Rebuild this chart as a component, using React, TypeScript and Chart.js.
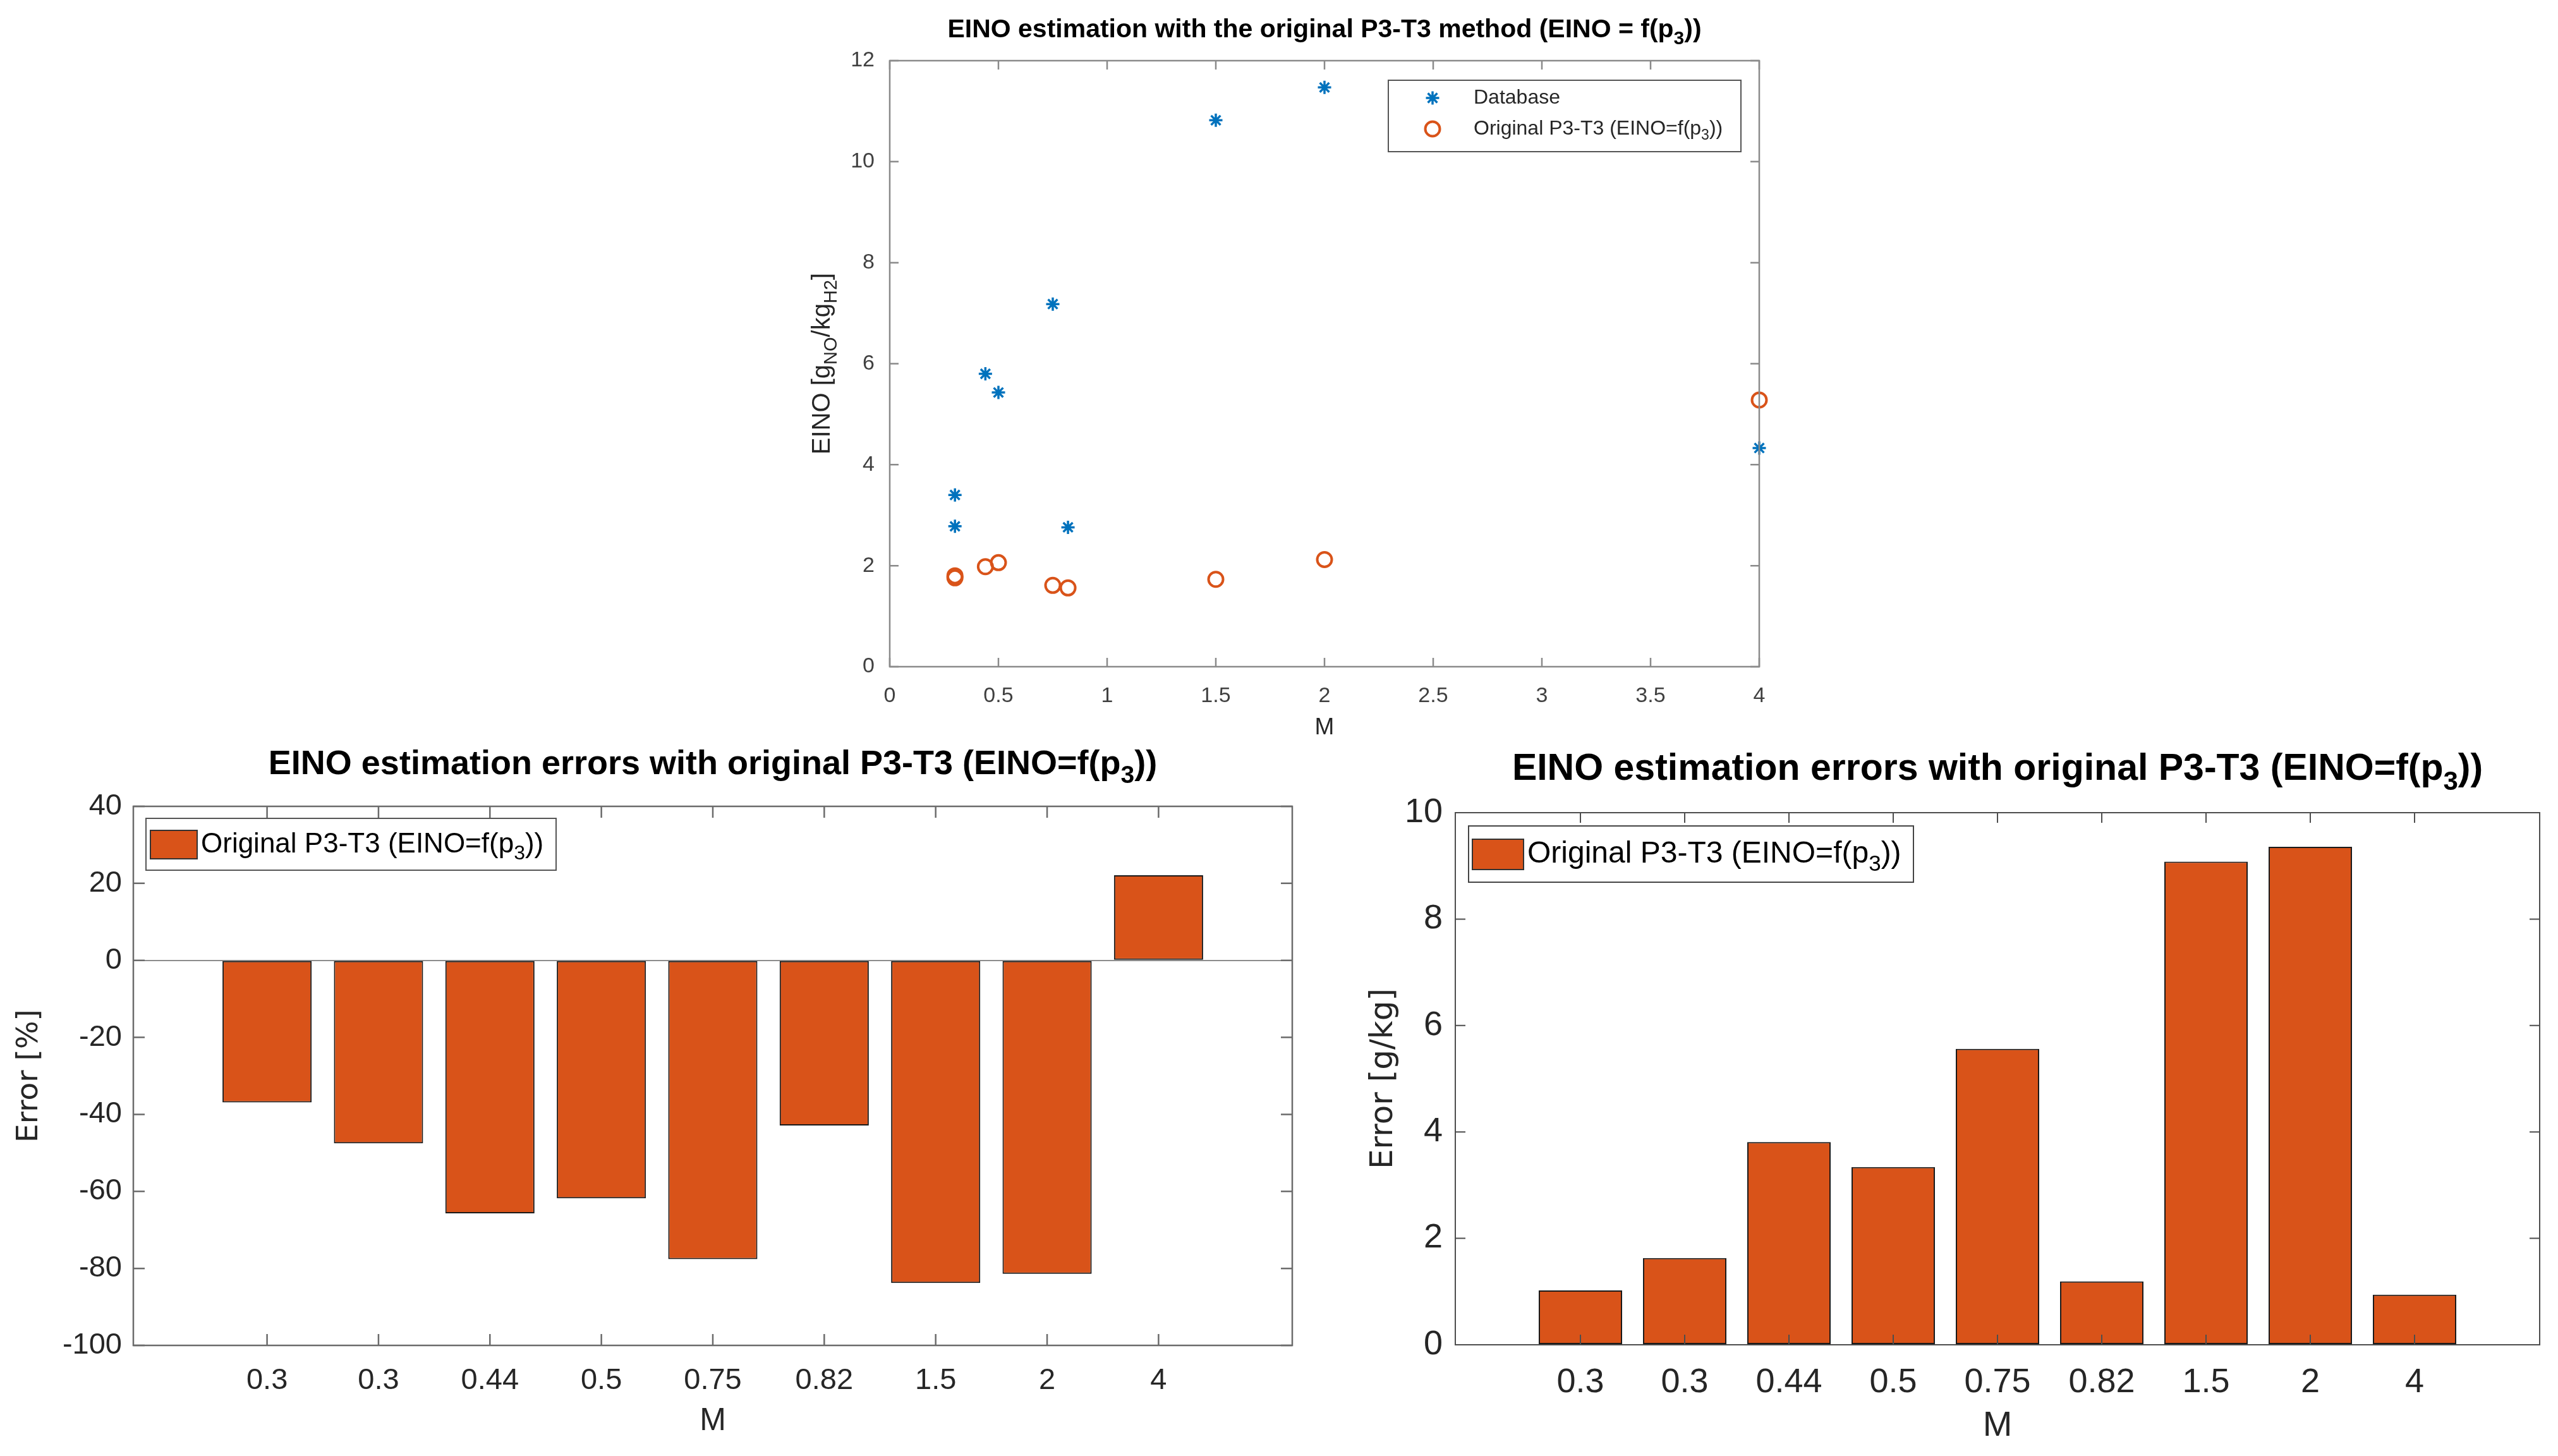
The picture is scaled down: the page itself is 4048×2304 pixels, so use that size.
import { useEffect, useRef } from "react"
import { Chart, registerables } from "chart.js"
import type { ChartArea, ChartConfiguration, Plugin } from "chart.js"

Chart.register(...registerables)

// M values of the test points and their labels on the bar charts
const mValues = [0.3, 0.3, 0.44, 0.5, 0.75, 0.82, 1.5, 2, 4]
const mLabels = ["0.3", "0.3", "0.44", "0.5", "0.75", "0.82", "1.5", "2", "4"]

// EINO [g_NO/kg_H2]
const einoDatabase = [2.78, 3.4, 5.8, 5.43, 7.18, 2.76, 10.82, 11.47, 4.33]
const einoOriginal = [1.76, 1.8, 1.98, 2.06, 1.61, 1.56, 1.73, 2.12, 5.28]

// errors of the original P3-T3 method
const errorPercent = [-36.9, -47.5, -65.7, -61.8, -77.6, -42.9, -83.8, -81.4, 22.1]
const errorGramsPerKg = [1.02, 1.63, 3.81, 3.34, 5.56, 1.19, 9.08, 9.36, 0.94]

type Seg = [string, boolean?]

const labelDatabase: Seg[] = [["Database"]]
const labelOriginal: Seg[] = [["Original P3-T3 (EINO=f(p"], ["3", true], ["))"]]
const titleTop: Seg[] = [["EINO estimation with the original P3-T3 method (EINO = f(p"], ["3", true], ["))"]]
const titleErrors: Seg[] = [["EINO estimation errors with original P3-T3 (EINO=f(p"], ["3", true], ["))"]]
const yTitleTop: Seg[] = [["EINO [g"], ["NO", true], ["/kg"], ["H2", true], ["]"]]

const BLUE = "#0072BD"
const ORANGE = "#D95319"
const SANS = "'Liberation Sans', Arial, Helvetica, sans-serif"
const WIDE = "'DejaVu Sans', Verdana, sans-serif"

const plain = (segs: Seg[]) => segs.map((s) => s[0]).join("")

function drawRich(
  ctx: CanvasRenderingContext2D,
  segs: Seg[],
  x: number,
  y: number,
  size: number,
  family: string,
  color: string,
  weight = "normal",
  align: "center" | "left" = "center",
  rotate = false
) {
  ctx.save()
  ctx.translate(x, y)
  if (rotate) ctx.rotate(-Math.PI / 2)
  ctx.fillStyle = color
  ctx.textBaseline = "middle"
  ctx.textAlign = "left"
  const fontFor = (sub?: boolean) => `${weight} ${sub ? Math.round(size * 0.72) : size}px ${family}`
  let total = 0
  const widths = segs.map(([t, sub]) => {
    ctx.font = fontFor(sub)
    const w = ctx.measureText(t).width
    total += w
    return w
  })
  let cx = align === "center" ? -total / 2 : 0
  segs.forEach(([t, sub], i) => {
    ctx.font = fontFor(sub)
    ctx.fillText(t, cx, sub ? size * 0.34 : 0)
    cx += widths[i]
  })
  ctx.restore()
}

function drawMarker(ctx: CanvasRenderingContext2D, style: string, x: number, y: number, r: number, color: string, lw: number) {
  ctx.save()
  ctx.strokeStyle = color
  ctx.lineWidth = lw
  ctx.beginPath()
  if (style === "star") {
    for (let k = 0; k < 4; k++) {
      const a = (k * Math.PI) / 4
      ctx.moveTo(x - Math.cos(a) * r, y - Math.sin(a) * r)
      ctx.lineTo(x + Math.cos(a) * r, y + Math.sin(a) * r)
    }
  } else {
    ctx.arc(x, y, r, 0, Math.PI * 2)
  }
  ctx.stroke()
  ctx.restore()
}

interface FrameSpec {
  id: string
  axisColor: string
  axisWidth: number
  tickLen: number
  title: { segs: Seg[]; size: number; y: number }
  xTitle: { text: string; size: number; y: number }
  yTitle: { segs: Seg[]; size: number; x: number; family: string }
  legend: (ctx: CanvasRenderingContext2D, a: ChartArea) => void
}

// MATLAB-like box with inward ticks on all four sides, titles and legend
function framePlugin(spec: FrameSpec): Plugin {
  return {
    id: spec.id,
    afterDatasetsDraw(chart) {
      const { ctx, chartArea: a, scales } = chart
      ctx.save()
      ctx.strokeStyle = spec.axisColor
      ctx.lineWidth = spec.axisWidth
      ctx.beginPath()
      for (const t of scales.x.ticks) {
        const px = scales.x.getPixelForValue(t.value)
        ctx.moveTo(px, a.bottom)
        ctx.lineTo(px, a.bottom - spec.tickLen)
        ctx.moveTo(px, a.top)
        ctx.lineTo(px, a.top + spec.tickLen)
      }
      for (const t of scales.y.ticks) {
        const py = scales.y.getPixelForValue(t.value)
        ctx.moveTo(a.left, py)
        ctx.lineTo(a.left + spec.tickLen, py)
        ctx.moveTo(a.right, py)
        ctx.lineTo(a.right - spec.tickLen, py)
      }
      ctx.stroke()
      ctx.strokeRect(a.left, a.top, a.right - a.left, a.bottom - a.top)
      ctx.restore()

      spec.legend(ctx, a)
      const cx = (a.left + a.right) / 2
      const cy = (a.top + a.bottom) / 2
      drawRich(ctx, spec.title.segs, cx, spec.title.y, spec.title.size, SANS, "#000", "bold")
      drawRich(ctx, [[spec.xTitle.text]], cx, spec.xTitle.y, spec.xTitle.size, SANS, "#262626")
      drawRich(ctx, spec.yTitle.segs, spec.yTitle.x, cy, spec.yTitle.size, spec.yTitle.family, "#262626", "normal", "center", true)
    },
  }
}

function barLegend(left: number, top: number, w: number, h: number, sw: number[], fontSize: number, border: string) {
  return (ctx: CanvasRenderingContext2D, a: ChartArea) => {
    const bx = a.left + left
    const by = a.top + top
    ctx.save()
    ctx.fillStyle = "#fff"
    ctx.fillRect(bx, by, w, h)
    ctx.strokeStyle = border
    ctx.lineWidth = 2
    ctx.strokeRect(bx, by, w, h)
    ctx.fillStyle = ORANGE
    ctx.fillRect(bx + sw[0], by + sw[1], sw[2], sw[3])
    ctx.strokeStyle = "#333"
    ctx.strokeRect(bx + sw[0], by + sw[1], sw[2], sw[3])
    ctx.restore()
    drawRich(ctx, labelOriginal, bx + sw[0] + sw[2] + 6, by + sw[1] + sw[3] / 2, fontSize, SANS, "#000", "normal", "left")
  }
}

function makeScatter(): ChartConfiguration {
  const tickColor = "#404040"
  return {
    type: "scatter",
    data: {
      datasets: [
        {
          label: plain(labelDatabase),
          data: mValues.map((m, i) => ({ x: m, y: einoDatabase[i] })),
          pointStyle: "star",
          pointRadius: 10.5,
          borderWidth: 3.5,
          borderColor: BLUE,
          backgroundColor: BLUE,
          clip: false,
        },
        {
          label: plain(labelOriginal),
          data: mValues.map((m, i) => ({ x: m, y: einoOriginal[i] })),
          pointStyle: "circle",
          pointRadius: 11.5,
          borderWidth: 4,
          borderColor: ORANGE,
          backgroundColor: "rgba(0,0,0,0)",
          clip: false,
        },
      ],
    },
    options: {
      animation: false,
      responsive: false,
      devicePixelRatio: 1,
      layout: { padding: { top: 96, right: 116, left: 0, bottom: 0 } },
      plugins: { legend: { display: false }, tooltip: { enabled: false } },
      scales: {
        x: {
          type: "linear",
          min: 0,
          max: 4,
          grid: { display: false },
          border: { display: false },
          ticks: { stepSize: 0.5, padding: 18, maxRotation: 0, color: tickColor, font: { family: SANS, size: 34 }, callback: (v) => String(v) },
          afterFit: (s) => { s.height = 145 },
        },
        y: {
          min: 0,
          max: 12,
          grid: { display: false },
          border: { display: false },
          ticks: { stepSize: 2, padding: 16, color: tickColor, font: { family: SANS, size: 34 }, callback: (v) => String(v) },
          afterFit: (s) => { s.width = 208 },
        },
      },
    },
    plugins: [
      framePlugin({
        id: "frameTop",
        axisColor: "#8a8a8a",
        axisWidth: 2.5,
        tickLen: 14,
        title: { segs: titleTop, size: 41, y: 48 },
        xTitle: { text: "M", size: 37, y: 1152 },
        yTitle: { segs: yTitleTop, size: 40, x: 102, family: SANS },
        legend: (ctx, a) => {
          const w = 558
          const bx = a.right - 29 - w
          const by = a.top + 31
          ctx.save()
          ctx.fillStyle = "#fff"
          ctx.fillRect(bx, by, w, 113)
          ctx.strokeStyle = "#555"
          ctx.lineWidth = 2
          ctx.strokeRect(bx, by, w, 113)
          ctx.restore()
          drawMarker(ctx, "star", bx + 70, by + 28, 10.5, BLUE, 3.5)
          drawMarker(ctx, "circle", bx + 70, by + 77, 11.5, ORANGE, 4)
          drawRich(ctx, labelDatabase, bx + 135, by + 28, 32, SANS, "#262626", "normal", "left")
          drawRich(ctx, labelOriginal, bx + 135, by + 77, 32, SANS, "#262626", "normal", "left")
        },
      }),
    ],
  }
}

function makeBars(
  values: number[],
  yMin: number,
  yMax: number,
  step: number,
  sizes: { tick: number; yWidth: number; xHeight: number; top: number; right: number; yPad: number },
  frame: FrameSpec
): ChartConfiguration {
  const tickFont = { family: SANS, size: sizes.tick }
  return {
    type: "bar",
    data: {
      datasets: [
        {
          label: plain(labelOriginal),
          data: values.map((v, i) => ({ x: i + 1, y: v })),
          backgroundColor: ORANGE,
          borderColor: "#1a1a1a",
          borderWidth: 2,
          borderSkipped: false,
          categoryPercentage: 1,
          barPercentage: 0.8,
        },
      ],
    },
    options: {
      animation: false,
      responsive: false,
      devicePixelRatio: 1,
      layout: { padding: { top: sizes.top, right: sizes.right, left: 0, bottom: 0 } },
      plugins: { legend: { display: false }, tooltip: { enabled: false } },
      scales: {
        x: {
          type: "linear",
          offset: false,
          min: -0.2,
          max: 10.2,
          grid: { display: false },
          border: { display: false },
          afterBuildTicks: (s) => {
            s.ticks = mLabels.map((_, i) => ({ value: i + 1 }))
          },
          ticks: {
            autoSkip: false,
            maxRotation: 0,
            padding: 20,
            color: "#262626",
            font: tickFont,
            callback: (_v, i) => mLabels[i],
          },
          afterFit: (s) => { s.height = sizes.xHeight },
        },
        y: {
          min: yMin,
          max: yMax,
          grid: {
            drawTicks: false,
            lineWidth: 2,
            color: (c) => (c.tick && c.tick.value === 0 && yMin < 0 ? "#8c8c8c" : "rgba(0,0,0,0)"),
          },
          border: { display: false },
          ticks: { stepSize: step, padding: sizes.yPad, color: "#262626", font: tickFont, callback: (v) => String(v) },
          afterFit: (s) => { s.width = sizes.yWidth },
        },
      },
    },
    plugins: [framePlugin(frame)],
  }
}

const makePercent = () =>
  makeBars(errorPercent, -100, 40, 20, { tick: 47, yWidth: 211, xHeight: 175, top: 126, right: 35, yPad: 18 }, {
    id: "framePercent",
    axisColor: "#6b6b6b",
    axisWidth: 2.5,
    tickLen: 18,
    title: { segs: titleErrors, size: 54, y: 60 },
    xTitle: { text: "M", size: 50, y: 1099 },
    yTitle: { segs: [["Error [%]"]], size: 47, x: 47, family: WIDE },
    legend: barLegend(20, 19, 649, 82, [7, 19, 74, 45], 44, "#555"),
  })

const makeAbsolute = () =>
  makeBars(errorGramsPerKg, 0, 10, 2, { tick: 54, yWidth: 203, xHeight: 176, top: 136, right: 29, yPad: 20 }, {
    id: "frameAbsolute",
    axisColor: "#4d4d4d",
    axisWidth: 2,
    tickLen: 16,
    title: { segs: titleErrors, size: 59, y: 68 },
    xTitle: { text: "M", size: 56, y: 1107 },
    yTitle: { segs: [["Error [g/kg]"]], size: 50, x: 90, family: WIDE },
    legend: barLegend(21, 21, 704, 89, [6, 21, 81, 48], 48, "#444"),
  })

function ChartCanvas({ left, top, width, height, make }: { left: number; top: number; width: number; height: number; make: () => ChartConfiguration }) {
  const ref = useRef<HTMLCanvasElement>(null)
  useEffect(() => {
    if (!ref.current) return
    const chart = new Chart(ref.current, make())
    return () => chart.destroy()
  }, [make])
  return (
    <canvas
      ref={ref}
      width={width}
      height={height}
      style={{ position: "absolute", left, top, width, height }}
    />
  )
}

export default function App() {
  return (
    <div style={{ position: "absolute", left: 0, top: 0, width: 4048, height: 2304, background: "#fff", overflow: "hidden" }}>
      <ChartCanvas left={1200} top={0} width={1700} height={1200} make={makeScatter} />
      <ChartCanvas left={0} top={1150} width={2080} height={1154} make={makePercent} />
      <ChartCanvas left={2100} top={1150} width={1948} height={1154} make={makeAbsolute} />
    </div>
  )
}
